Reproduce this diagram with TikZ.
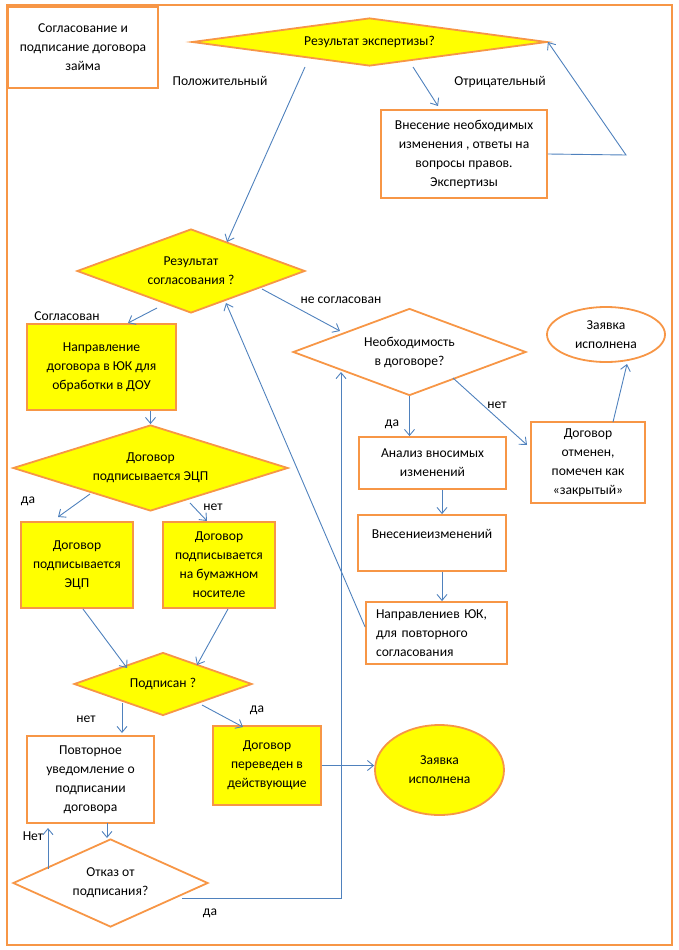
\documentclass[tikz,border=0pt]{standalone}
\usepackage{fontspec}
\setmainfont{Carlito}
\usepackage{xcolor}
\usetikzlibrary{
  arrows.meta,
  positioning,
  calc,
  shapes.geometric}
\definecolor{frameorange}{RGB}{247,150,70}
\definecolor{lineblue}{RGB}{79,129,189}
\definecolor{fillyellow}{RGB}{255,255,0}
\tikzset{box/.style={draw=frameorange, line width=1.8pt, rectangle, align=center, inner sep=0pt},
         ybox/.style={box, fill=fillyellow},
         ask/.style={draw=frameorange, line width=1.8pt, diamond, align=center, inner sep=0pt},
         yask/.style={ask, fill=fillyellow},
         oval/.style={draw=frameorange, line width=1.8pt, ellipse, align=center, inner sep=0pt},
         lbl/.style={inner sep=0pt},
         conn/.style={draw=lineblue, line width=0.9pt, ->},
        }

\begin{document}
\begin{tikzpicture}[x=1pt, y=-1pt, font=\fontsize{13.6}{19}\selectfont,
  >={Straight Barb[length=6pt,width=10pt]}]

\useasboundingbox (0,0) rectangle (679,950);
\draw[frameorange, line width=2pt] (7,5) rectangle (672,945);

%top part
\node[box, minimum width=150pt, minimum height=81pt] (title) at (83,47.5) {Согласование и\\подписание договора\\займа};
\node[yask, aspect=7.4, minimum width=355pt, minimum height=48pt] (exp) at (369.5,42) {Результат экспертизы?};
\node[box, minimum width=166pt, minimum height=88pt] (vnes) at (464,154) {Внесение необходимых\\изменения , ответы на\\вопросы правов.\\Экспертизы};
\coordinate (ret) at (626,155);

\node[lbl] (pos) at (220,81) {Положительный};
\node[lbl] (neg) at (500,82) {Отрицательный};

%agreement
\node[yask, aspect=2.7, minimum width=228pt, minimum height=84pt] (sog) at (191,271) {Результат\\согласования ?};
\node[ybox, minimum width=149pt, minimum height=86pt] (napr) at (101.5,367) {Направление\\договора в ЮК для\\обработки в ДОУ};
\node[yask, aspect=3.2, minimum width=275pt, minimum height=86pt] (ecp) at (150.5,468) {Договор\\подписывается ЭЦП};
\node[ybox, minimum width=112pt, minimum height=86pt] (podpecp) at (77,565) {Договор\\подписывается\\ЭЦП};
\node[ybox, minimum width=112pt, minimum height=86pt] (podpbum) at (219,565) {Договор\\подписывается\\на бумажном\\носителе};

\node[lbl] (lsog) at (67,316) {Согласован};
\node[lbl] (lneso) at (341,300) {не согласован};
\node[lbl] (lda1) at (28,501) {да};
\node[lbl] (lnet1) at (213,507) {нет};

%signing
\node[yask, aspect=2.8, minimum width=178pt, minimum height=63pt] (podp) at (163,684) {Подписан ?};
\node[box, minimum width=127pt, minimum height=87pt] (povt) at (90.5,779.5) {Повторное\\уведомление о\\подписании\\договора};
\node[ybox, minimum width=108pt, minimum height=79pt] (pereved) at (267,765.5) {Договор\\переведен в\\действующие};
\node[oval, fill=fillyellow, minimum width=129pt, minimum height=90pt] (done) at (439.5,770) {Заявка\\исполнена};
\node[ask, aspect=2.2, minimum width=195pt, minimum height=88pt] (otkaz) at (110.5,883) {Отказ от\\подписания?};
\coordinate (yes) at (341,898);

\node[lbl] (lnet2) at (86,719) {нет};
\node[lbl] (lda2) at (257,710) {да};
\node[lbl] (lnet3) at (33,836) {Нет};
\node[lbl] (lda3) at (210,913) {да};

%changes
\node[ask, aspect=2.7, minimum width=233pt, minimum height=87pt] (neobh) at (409.5,352) {Необходимость\\в договоре?};
\node[box, minimum width=147pt, minimum height=52pt] (analiz) at (432.5,463) {Анализ вносимых\\изменений};
\node[box, minimum width=114pt, minimum height=81pt] (otmen) at (588,462.5) {Договор\\отменен,\\помечен как\\«закрытый»};
\node[oval, minimum width=118pt, minimum height=55pt] (zakr) at (606,334.5) {Заявка\\исполнена};
\node[box, minimum width=148pt, minimum height=56pt] (vnesizm) at (432,543) {Внесениеизменений\\ \mbox{}};
\node[box, align=left, text width=121pt, inner xsep=10pt, minimum height=62pt] (naprUK) at (436.5,633) {Направлениев ЮК,\\для повторного\\согласования};

\node[lbl] (lda4) at (392,424) {да};
\node[lbl] (lnet4) at (497,405) {нет};

%connectors
\draw[conn] ($(exp)+(-64.5,25)$) -- ($(sog)+(36,-29)$);
\draw[conn] ($(exp)+(43.5,25)$) -- ($(vnes)+(-26,-48)$);
\draw[conn] (vnes.east) -- (ret) -- (exp.east);

\draw[conn] ($(sog)+(-34,37)$) -- ($(napr)+(26.5,-44)$);
\draw[conn] ($(sog)+(71,18)$) -- ($(neobh)+(-69.5,-21)$);
\draw[conn] (napr.south -| ecp.north) -- (ecp.north);
\draw[conn] ($(ecp)+(-60.5,26)$) -- ($(podpecp)+(-19,-48)$);
\draw[conn] ($(ecp)+(39.5,35)$) -- ($(podpbum)+(-12,-44)$);
\draw[conn] ($(podpecp)+(6,44)$) -- ($(podp)+(-36,-16)$);
\draw[conn] ($(podpbum)+(9,44)$) -- ($(podp)+(34,-19)$);

\draw[conn] ($(podp)+(-41,19)$) -- ($(povt)+(31.5,-46.5)$);
\draw[conn] ($(podp)+(39,21)$) -- ($(pereved)+(-24,-38.5)$);
\draw[conn] (pereved.east) -- (pereved.east -| done.west);
\draw[conn] ($(povt)+(16.5,43.5)$) -- ($(otkaz)+(-3.5,-45)$);
\draw[conn] ($(otkaz)+(-62.5,-14)$) -- ($(povt)+(-42.5,48.5)$);
\draw[conn] ($(otkaz)+(71.5,15)$) -- (yes) -- ($(neobh)+(-68.5,20)$);

\draw[conn] (neobh.south) -- (neobh.south |- analiz.north);
\draw[conn] ($(neobh)+(43.5,26)$) -- ($(otmen)+(-61,-17.5)$);
\draw[conn] ($(otmen)+(25,-40.5)$) -- ($(zakr)+(21,29.5)$);
\draw[conn] ($(analiz.south)+(9.5,0)$) -- ($(vnesizm.north)+(10,0)$);
\draw[conn] ($(vnesizm.south)+(10,0)$) -- ($(naprUK.north)+(5.5,0)$);
\draw[conn] ($(naprUK.west)+(0,-6)$) -- ($(sog)+(35,32)$);

\end{tikzpicture}
\end{document}
